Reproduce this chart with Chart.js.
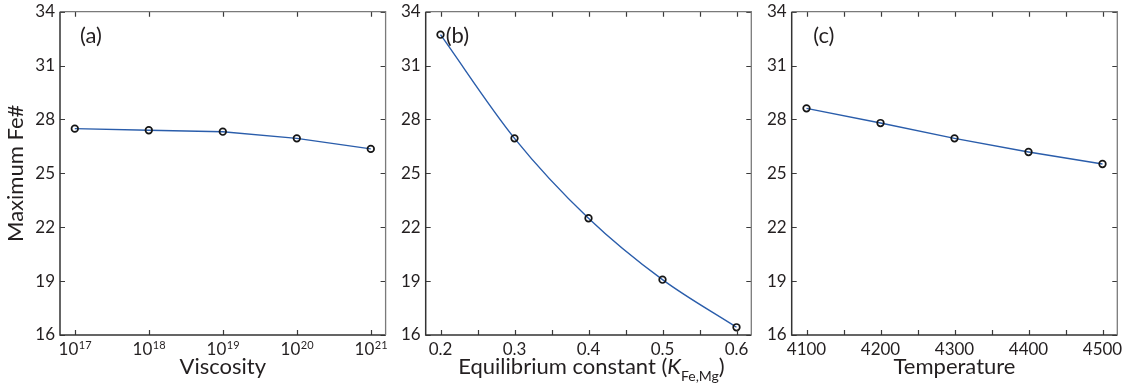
<!DOCTYPE html>
<html lang="en">
<head>
<meta charset="UTF-8">
<title>Maximum Fe# sensitivity</title>
<script src="https://cdn.jsdelivr.net/npm/chart.js"></script>
<style>
    body { margin: 0; background: #fff; }
    .wrap { position: relative; width: 1125px; height: 387px; overflow: hidden; }
    .panel { position: absolute; top: 0; }
</style>
</head>
<body>
<div class="wrap">
    <canvas class="panel" id="chartA" width="395" height="387" style="left:0"></canvas>
    <canvas class="panel" id="chartB" width="365" height="387" style="left:395px"></canvas>
    <canvas class="panel" id="chartC" width="365" height="387" style="left:760px"></canvas>
</div>
<script>
// data
const viscosity = [1e17, 1e18, 1e19, 1e20, 1e21];
const viscosityExp = ['17', '18', '19', '20', '21'];
const feByViscosity = [27.49, 27.40, 27.32, 26.95, 26.36];

const kFeMg = [0.2, 0.3, 0.4, 0.5, 0.6];
const feByK = [32.72, 26.95, 22.50, 19.08, 16.43];

const temperature = [4100, 4200, 4300, 4400, 4500];
const feByTemp = [28.62, 27.80, 26.95, 26.19, 25.52];

const yMin = 16, yMax = 34, yStep = 3;

const FONT = 'Lato, "Open Sans", sans-serif';
const TEXT = '#231f20';
const LINE = '#2a5dab';

// MATLAB-like box with inward ticks plus the panel letter
const framePlugin = {
    id: 'frame',
    afterDraw(chart, args, opts) {
        const { ctx, chartArea: a, scales: { x, y } } = chart;
        const len = 5;
        ctx.save();
        ctx.lineWidth = 1.2;
        ctx.strokeStyle = '#3a3a3a';
        ctx.beginPath();
        x.ticks.forEach(t => {
            if (t.value < x.min || t.value > x.max) return;
            const px = Math.round(x.getPixelForValue(t.value)) + 0.5;
            ctx.moveTo(px, a.bottom); ctx.lineTo(px, a.bottom - len);
            ctx.moveTo(px, a.top); ctx.lineTo(px, a.top + len);
        });
        y.ticks.forEach(t => {
            const py = Math.round(y.getPixelForValue(t.value)) + 0.5;
            ctx.moveTo(a.left, py); ctx.lineTo(a.left + len, py);
            ctx.moveTo(a.right, py); ctx.lineTo(a.right - len, py);
        });
        ctx.stroke();

        // left + bottom axis lines darker, top + right lighter
        ctx.lineWidth = 1.5;
        ctx.strokeStyle = '#333';
        ctx.beginPath();
        ctx.moveTo(a.left, a.top); ctx.lineTo(a.left, a.bottom); ctx.lineTo(a.right, a.bottom);
        ctx.stroke();
        ctx.strokeStyle = '#7a7a7a';
        ctx.lineWidth = 1.3;
        ctx.beginPath();
        ctx.moveTo(a.left, a.top); ctx.lineTo(a.right, a.top); ctx.lineTo(a.right, a.bottom);
        ctx.stroke();

        ctx.fillStyle = TEXT;
        ctx.font = '22px ' + FONT;
        ctx.textBaseline = 'middle';
        ctx.textAlign = 'left';
        ctx.fillText(opts.letter, a.left + opts.dx, 36);

        // power-of-ten tick labels: "10" with a raised exponent
        if (opts.powers) {
            ctx.textBaseline = 'alphabetic';
            opts.powers.forEach((e, i) => {
                ctx.font = '17px ' + FONT;
                const wBase = ctx.measureText('10').width;
                ctx.font = '11px ' + FONT;
                const wExp = ctx.measureText(e).width;
                const px = x.getPixelForValue(viscosity[i]);
                const left = px - (wBase + wExp) / 2;
                ctx.font = '17px ' + FONT;
                ctx.fillText('10', left, 355);
                ctx.font = '11px ' + FONT;
                ctx.fillText(e, left + wBase + 0.5, 349);
            });
        }

        // x title with italic K and subscript
        if (opts.kTitle) {
            const parts = [
                { t: 'Equilibrium constant (', f: '22px ' + FONT, dy: 0 },
                { t: 'K', f: 'italic 22px ' + FONT, dy: 0 },
                { t: 'Fe,Mg', f: '14px ' + FONT, dy: 7 },
                { t: ')', f: '22px ' + FONT, dy: 0 }
            ];
            let total = 0;
            parts.forEach(p => { ctx.font = p.f; p.w = ctx.measureText(p.t).width; total += p.w; });
            let cx = (a.left + a.right) / 2 - total / 2 + 3;
            ctx.textBaseline = 'alphabetic';
            parts.forEach(p => {
                ctx.font = p.f;
                ctx.fillText(p.t, cx, 374 + p.dy);
                cx += p.w;
            });
        }
        ctx.restore();
    }
};

function yScale(width, showTitle) {
    return {
        min: yMin, max: yMax,
        grid: { display: false, drawTicks: false },
        border: { display: false },
        ticks: { stepSize: yStep, padding: 5, color: TEXT, font: { family: FONT, size: 17 } },
        title: {
            display: showTitle, text: 'Maximum Fe#', color: TEXT,
            font: { family: FONT, size: 22 }, padding: { top: 3, bottom: 0 }
        },
        afterFit(s) { s.width = width; s.paddingTop = 0; s.paddingBottom = 0; }
    };
}

function xScale(extra, titleText) {
    return Object.assign({
        grid: { display: false, drawTicks: false },
        border: { display: false },
        title: {
            display: !!titleText, text: titleText || '', color: TEXT,
            font: { family: FONT, size: 22 }, padding: { top: 0, bottom: 7 }
        },
        afterFit(s) { s.height = 52; s.paddingLeft = 0; s.paddingRight = 0; }
    }, extra);
}

function makeChart(id, xs, ys, xOpts, yOpts, padRight, frameOpts, tension) {
    return new Chart(document.getElementById(id), {
        type: 'line',
        data: {
            datasets: [{
                data: xs.map((v, i) => ({ x: v, y: ys[i] })),
                borderColor: LINE,
                borderWidth: 1.4,
                cubicInterpolationMode: tension ? 'monotone' : 'default',
                tension: 0,
                pointRadius: 3.3,
                pointBorderWidth: 1.7,
                pointBorderColor: '#151515',
                pointBackgroundColor: 'rgba(0,0,0,0)',
                clip: false
            }]
        },
        options: {
            responsive: false,
            animation: false,
            layout: { padding: { top: 11.7, right: padRight, bottom: 0, left: 0 } },
            plugins: { legend: { display: false }, tooltip: { enabled: false }, frame: frameOpts },
            scales: { x: xOpts, y: yOpts }
        },
        plugins: [framePlugin]
    });
}

makeChart('chartA', viscosity, feByViscosity,
    xScale({
        type: 'logarithmic', min: Math.pow(10, 16.8), max: Math.pow(10, 21.2),
        afterBuildTicks(s) { s.ticks = viscosity.map(v => ({ value: v })); },
        ticks: {
            autoSkip: false, maxRotation: 0, padding: 4, color: TEXT,
            font: { family: FONT, size: 17 },
            callback: () => ''   // drawn by the frame plugin with superscripts
        }
    }, 'Viscosity'),
    yScale(60, true), 9.4, { letter: '(a)', dx: 20, powers: viscosityExp }, false);

makeChart('chartB', kFeMg, feByK,
    xScale({
        type: 'linear', min: 0.18, max: 0.62,
        ticks: {
            stepSize: 0.05, includeBounds: false, autoSkip: false, maxRotation: 0, padding: 4,
            color: TEXT, font: { family: FONT, size: 17 },
            callback: v => Math.abs(v * 10 - Math.round(v * 10)) < 1e-6 ? v.toFixed(1) : ''
        }
    }, null),
    yScale(30.7, false), 8.7, { letter: '(b)', dx: 20, kTitle: true }, true);

makeChart('chartC', temperature, feByTemp,
    xScale({
        type: 'linear', min: 4080, max: 4520,
        ticks: {
            stepSize: 50, includeBounds: false, autoSkip: false, maxRotation: 0, padding: 4,
            color: TEXT, font: { family: FONT, size: 17 },
            callback: v => v % 100 === 0 ? String(v) : ''
        }
    }, 'Temperature'),
    yScale(31.7, false), 7.7, { letter: '(c)', dx: 21.5 }, false);
</script>
</body>
</html>
